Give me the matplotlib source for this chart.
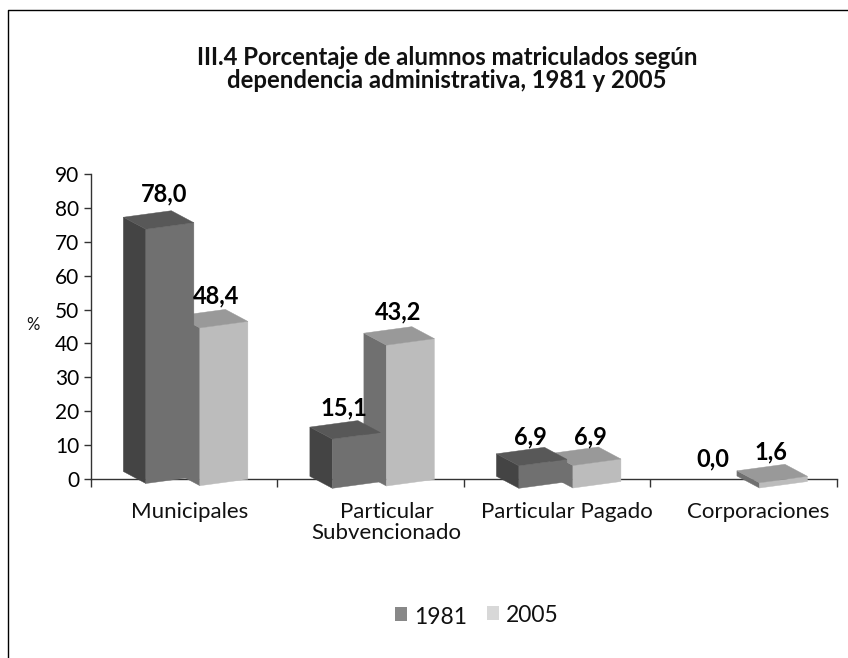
import matplotlib
matplotlib.use('Agg')
import matplotlib.pyplot as plt
from matplotlib.lines import Line2D
from matplotlib.patches import Polygon, Rectangle

plt.rcParams['font.family'] = ['Lato', 'DejaVu Sans']

# ==========================================
# Data
# ==========================================
categories = ['Municipales', 'Particular\nSubvencionado', 'Particular Pagado', 'Corporaciones']
years = ['1981', '2005']
values_1981 = [78.0, 15.1, 6.9, 0.0]
values_2005 = [48.4, 43.2, 6.9, 1.6]
y_ticks = list(range(0, 100, 10))

# ==========================================
# Look of the fake 3D bars (pixels)
# ==========================================
W, H = 848, 658
AX_L, AX_R, AX_T, AX_B = 90.6, 836.7, 174, 479
PX_X = (AX_R - AX_L) / 4
PX_Y = (AX_B - AX_T) / 90

BAR_W = 48
SKEW = 6.5
DEPTH_X = 22.5
DEPTH_Y = 12
HEIGHT_PX = 3.26

colors_1981 = {'left': '#444444', 'front': '#707070', 'top': '#585858'}
colors_2005 = {'left': '#707070', 'front': '#bcbcbc', 'top': '#999999'}

fig = plt.figure(figsize=(W / 100, H / 100), dpi=100)
ax = fig.add_axes([AX_L / W, 1 - AX_B / H, (AX_R - AX_L) / W, (AX_B - AX_T) / H])
ax.set_xlim(0, 4)
ax.set_ylim(0, 90)


def draw_bar(cat, shift, drop, value, colors):
    # front-left bottom corner, everything else is relative to it in data units
    x0 = cat + 0.5 + shift / PX_X
    y0 = -drop / PX_Y
    w = BAR_W / PX_X
    sk = SKEW / PX_Y
    dx = DEPTH_X / PX_X
    dy = DEPTH_Y / PX_Y
    h = value * HEIGHT_PX / PX_Y
    faces = {
        'left': [(x0, y0), (x0, y0 + h), (x0 - dx, y0 + h + dy), (x0 - dx, y0 + dy)],
        'front': [(x0, y0), (x0 + w, y0 + sk), (x0 + w, y0 + sk + h), (x0, y0 + h)],
        'top': [(x0, y0 + h), (x0 + w, y0 + sk + h), (x0 + w - dx, y0 + sk + h + dy), (x0 - dx, y0 + h + dy)],
    }
    for name, pts in faces.items():
        ax.add_patch(Polygon(pts, closed=True, facecolor=colors[name], edgecolor=colors[name],
                             linewidth=0.3, zorder=3 + cat, clip_on=False))


# 2005 goes first, the 1981 bar sits over its left side
drops_2005 = [6.7, 7, 9, 9]
drops_1981 = [4.5, 9.3, 9.3, 9]
for i in range(len(categories)):
    if values_2005[i] > 0:
        draw_bar(i, 16, drops_2005[i], values_2005[i], colors_2005)
    if values_1981[i] > 0:
        draw_bar(i, -38, drops_1981[i], values_1981[i], colors_1981)

# Value labels
label_offsets_1981 = [(-5.6, 20.6), (-12, 20), (-12, 18.6), (-16.7, 20)]
label_offsets_2005 = [(-7.6, 19), (-12, 20.6), (-6, 18.6), (-12.7, 21.6)]
for i in range(len(categories)):
    for vals, off, shift in [(values_1981, label_offsets_1981, -14), (values_2005, label_offsets_2005, 40)]:
        ax.annotate(f'{vals[i]:.1f}'.replace('.', ','), (i + 0.5 + shift / PX_X, vals[i]),
                    xytext=off[i], textcoords='offset pixels', ha='center', va='center',
                    fontsize=17, fontweight='bold', color='black', zorder=20, annotation_clip=False)

# Axes
for s in ['top', 'right']:
    ax.spines[s].set_visible(False)
for s in ['left', 'bottom']:
    ax.spines[s].set_color('#333333')
    ax.spines[s].set_linewidth(1)
ax.set_yticks(y_ticks)
ax.set_xticks(range(5))
ax.set_xticklabels([])
ax.tick_params(axis='y', length=5, width=1, color='#333333', labelsize=15, pad=3)
ax.tick_params(axis='x', length=6, width=1, color='#333333')
ax.patch.set_visible(False)

# Category labels
label_x = [189.5, 386.5, 567, 758]
for name, lx in zip(categories, label_x):
    fig.text(lx / W, 1 - 502 / H, name, ha='center', va='top', fontsize=16, linespacing=1.07, color='#111111')

fig.text(33 / W, 1 - 325 / H, '%', ha='center', va='center', fontsize=12, color='#111111')
fig.text(447 / W, 1 - 69 / H, 'III.4 Porcentaje de alumnos matriculados según\ndependencia administrativa, 1981 y 2005',
         ha='center', va='center', fontsize=17.2, fontweight='bold', linespacing=1.05, color='#111111')

# Legend
fig.add_artist(Rectangle((395 / W, 1 - 621 / H), 12 / W, 14 / H, transform=fig.transFigure,
                         facecolor='#888888', edgecolor='none'))
fig.add_artist(Rectangle((487 / W, 1 - 620 / H), 12 / W, 14 / H, transform=fig.transFigure,
                         facecolor='#d8d8d8', edgecolor='none'))
fig.text(414 / W, 1 - 617 / H, years[0], ha='left', va='center', fontsize=16.5, color='#111111')
fig.text(506 / W, 1 - 615 / H, years[1], ha='left', va='center', fontsize=16.5, color='#111111')

# Frame, only top and left
fx = [8 / W, 8 / W, 1]
fy = [0, 1 - 10 / H, 1 - 10 / H]
fig.add_artist(Line2D(fx, fy, color='black', linewidth=1, transform=fig.transFigure))

fig.savefig('out.png', dpi=100, facecolor='white')
